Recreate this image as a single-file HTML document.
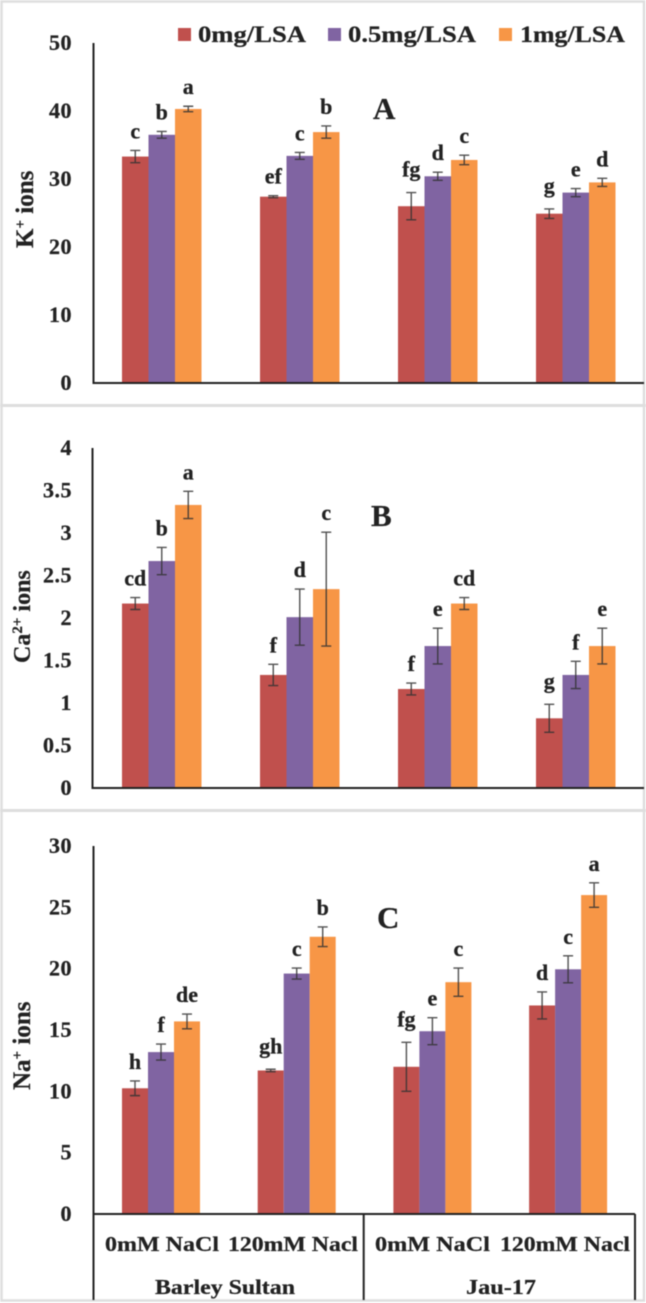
<!DOCTYPE html>
<html lang="en">
<head>
<meta charset="utf-8">
<title>Ion content by LSA treatment</title>
<style>
html,body{margin:0;padding:0;background:#fff;}
#stage{display:block;width:646px;height:1303px;filter:blur(0.55px);}
text{font-family:"Liberation Serif",serif;font-weight:bold;fill:#222;stroke:#222;stroke-width:0.25px;}
</style>
</head>
<body>
<svg id="stage" xmlns="http://www.w3.org/2000/svg" width="646" height="1303" viewBox="0 0 646 1303"></svg>
<script>
// ---- chart data ----
const seriesNames = ['0mg/LSA', '0.5mg/LSA', '1mg/LSA'];
const seriesColors = ['#C0504D', '#8064A2', '#F79646'];
const categories = ['0mM NaCl', '120mM Nacl', '0mM NaCl', '120mM Nacl'];
const cultivars = ['Barley Sultan', 'Jau-17'];

const kTicks = [0, 10, 20, 30, 40, 50];
const k0 = [33.3, 27.4, 26.0, 24.9];
const k05 = [36.5, 33.4, 30.4, 28.0];
const k1 = [40.3, 36.9, 32.8, 29.5];
const kErr0 = [0.9, 0.15, 2.0, 0.7];
const kErr05 = [0.5, 0.5, 0.6, 0.6];
const kErr1 = [0.4, 0.9, 0.7, 0.6];
const kLetters0 = ['c', 'ef', 'fg', 'g'];
const kLetters05 = ['b', 'c', 'd', 'e'];
const kLetters1 = ['a', 'b', 'c', 'd'];

const caTicks = [0, 0.5, 1, 1.5, 2, 2.5, 3, 3.5, 4];
const ca0 = [2.17, 1.33, 1.165, 0.82];
const ca05 = [2.67, 2.01, 1.67, 1.33];
const ca1 = [3.33, 2.34, 2.17, 1.67];
const caErr0 = [0.07, 0.125, 0.07, 0.165];
const caErr05 = [0.16, 0.33, 0.21, 0.16];
const caErr1 = [0.16, 0.67, 0.07, 0.21];
const caLetters0 = ['cd', 'f', 'f', 'g'];
const caLetters05 = ['b', 'd', 'e', 'f'];
const caLetters1 = ['a', 'c', 'cd', 'e'];

const naTicks = [0, 5, 10, 15, 20, 25, 30];
const na0 = [10.25, 11.7, 12.0, 17.0];
const na05 = [13.2, 19.6, 14.9, 19.95];
const na1 = [15.7, 22.6, 18.9, 26.0];
const naErr0 = [0.6, 0.1, 2.0, 1.1];
const naErr05 = [0.65, 0.45, 1.1, 1.1];
const naErr1 = [0.6, 0.8, 1.15, 1.0];
const naLetters0 = ['h', 'gh', 'fg', 'd'];
const naLetters05 = ['f', 'c', 'e', 'c'];
const naLetters1 = ['de', 'b', 'c', 'a'];

// ---- drawing ----
const NS = 'http://www.w3.org/2000/svg';
const svg = document.getElementById('stage');

function mk(tag, attrs, parent) {
  const el = document.createElementNS(NS, tag);
  for (const k in attrs) el.setAttribute(k, attrs[k]);
  (parent || svg).appendChild(el);
  return el;
}

function drawFrame() {
  [[2, 405], [2, 810]].forEach(function (p) {
    const sep = mk('rect', {x: 0, y: p[1] - 1, width: 646, height: 3, fill: '#dedede'});
    
    
  });
  const frame = mk('rect', {x: 1.5, y: 1.5, width: 642.5, height: 1299, fill: 'none', stroke: '#dedede', 'stroke-width': 2.5});
  
  
}

function drawPanel(p) {
  const g = mk('g', {});
  
  

  const maxTick = p.ticks[p.ticks.length - 1];
  const y = function (v) { return p.base - (v / maxTick) * (p.base - p.top); };
  const x = function (gi, si) { return p.x0 + gi * p.step + si * p.barW; };

  p.ticks.forEach(function (t) {
    const lab = mk('text', {x: 72, y: y(t) + 7, 'text-anchor': 'end', 'font-size': 22, 'letter-spacing': 0.5}, g);
    lab.textContent = String(t);
    
    
  });

  p.values.forEach(function (vals, si) {
    vals.forEach(function (v, gi) {
      const bar = mk('rect', {x: x(gi, si), y: y(v), width: p.barW, height: p.base - y(v), fill: seriesColors[si]}, g);
      
      
    });
  });

  p.values.forEach(function (vals, si) {
    vals.forEach(function (v, gi) {
      const e = p.errs[si][gi];
      const cx = x(gi, si) + p.barW / 2;
      const d = 'M' + (cx - 5) + ' ' + y(v + e) + 'H' + (cx + 5) +
                'M' + cx + ' ' + y(v + e) + 'V' + y(v - e) +
                'M' + (cx - 5) + ' ' + y(v - e) + 'H' + (cx + 5);
      const err = mk('path', {d: d, fill: 'none', stroke: '#333', 'stroke-width': 1.4, 'stroke-opacity': 0.85}, g);
      
      

      const txt = p.letters[si][gi];
      const gap = txt.indexOf('g') >= 0 ? 16 : 12;
      const letter = mk('text', {x: cx, y: y(v + e) - gap, 'text-anchor': 'middle', 'font-size': 22}, g);
      letter.textContent = txt;
      
      
    });
  });

  const axis = mk('path', {d: 'M' + p.axisX + ' ' + p.top + 'V' + p.axisBottom + 'M' + (p.axisX - 1) + ' ' + p.base + 'H' + p.axisEnd, fill: 'none', stroke: '#222', 'stroke-width': 2}, g);
  
  

  const letterMark = mk('text', {x: p.markX, y: p.markY, 'font-size': 31}, g);
  letterMark.textContent = p.mark;
  
  

  const title = mk('text', {transform: 'translate(' + p.titleX + ' ' + p.titleY + ') rotate(-90)', 'font-size': p.titleSize}, g);
  
  
  const t1 = mk('tspan', {}, title);
  t1.textContent = p.titleBase;
  const t2 = mk('tspan', {dy: -8, 'font-size': 15}, title);
  t2.textContent = p.titleSup;
  const t3 = mk('tspan', {dy: 8}, title);
  t3.textContent = ' ions';
}

function drawLegend() {
  const boxes = [178, 328, 499];
  const texts = [198, 348, 520];
  const widths = [108, 128, 105];
  const lg = mk('g', {});
  
  
  seriesNames.forEach(function (name, i) {
    const sw = mk('rect', {x: boxes[i], y: 28, width: 13, height: 13, fill: seriesColors[i]}, lg);
    
    
    const t = mk('text', {x: texts[i], y: 42, 'font-size': 23, textLength: widths[i], lengthAdjust: 'spacingAndGlyphs'}, lg);
    t.textContent = name;
    
    
  });
}

function drawCategoryAxis() {
  const catX = [105, 228, 375, 500];
  const catW = [114, 130, 115, 130];
  categories.forEach(function (c, i) {
    const t = mk('text', {x: catX[i], y: 1251, 'font-size': 21, textLength: catW[i], lengthAdjust: 'spacingAndGlyphs'});
    t.textContent = c;
    
    
  });
  const cultX = [155, 466];
  const cultW = [140, 70];
  cultivars.forEach(function (c, i) {
    const t = mk('text', {x: cultX[i], y: 1294, 'font-size': 21, textLength: cultW[i], lengthAdjust: 'spacingAndGlyphs'});
    t.textContent = c;
    
    
  });
  const dividers = mk('path', {d: 'M363.7 1214V1300M635 1214V1300', fill: 'none', stroke: '#222', 'stroke-width': 2});
  
  
}

drawFrame();
drawPanel({key: 'k', mark: 'A', markX: 373, markY: 119, titleBase: 'K', titleSup: '+', titleSize: 25, titleX: 33, titleY: 248,
  ticks: kTicks, values: [k0, k05, k1], errs: [kErr0, kErr05, kErr1], letters: [kLetters0, kLetters05, kLetters1],
  top: 43, base: 383, axisX: 93.5, axisBottom: 383, axisEnd: 644, x0: 122, step: 138, barW: 26.5});
drawPanel({key: 'ca', mark: 'B', markX: 371, markY: 526, titleBase: 'Ca', titleSup: '2+', titleSize: 24, titleX: 30, titleY: 663,
  ticks: caTicks, values: [ca0, ca05, ca1], errs: [caErr0, caErr05, caErr1], letters: [caLetters0, caLetters05, caLetters1],
  top: 448, base: 788, axisX: 92.5, axisBottom: 788, axisEnd: 644, x0: 122, step: 138, barW: 26.5});
drawPanel({key: 'na', mark: 'C', markX: 377, markY: 928, titleBase: 'Na', titleSup: '+', titleSize: 25, titleX: 30, titleY: 1090,
  ticks: naTicks, values: [na0, na05, na1], errs: [naErr0, naErr05, naErr1], letters: [naLetters0, naLetters05, naLetters1],
  top: 846, base: 1214, axisX: 93.5, axisBottom: 1300, axisEnd: 635, x0: 122, step: 135.7, barW: 26});
drawLegend();
drawCategoryAxis();
</script>
</body>
</html>
